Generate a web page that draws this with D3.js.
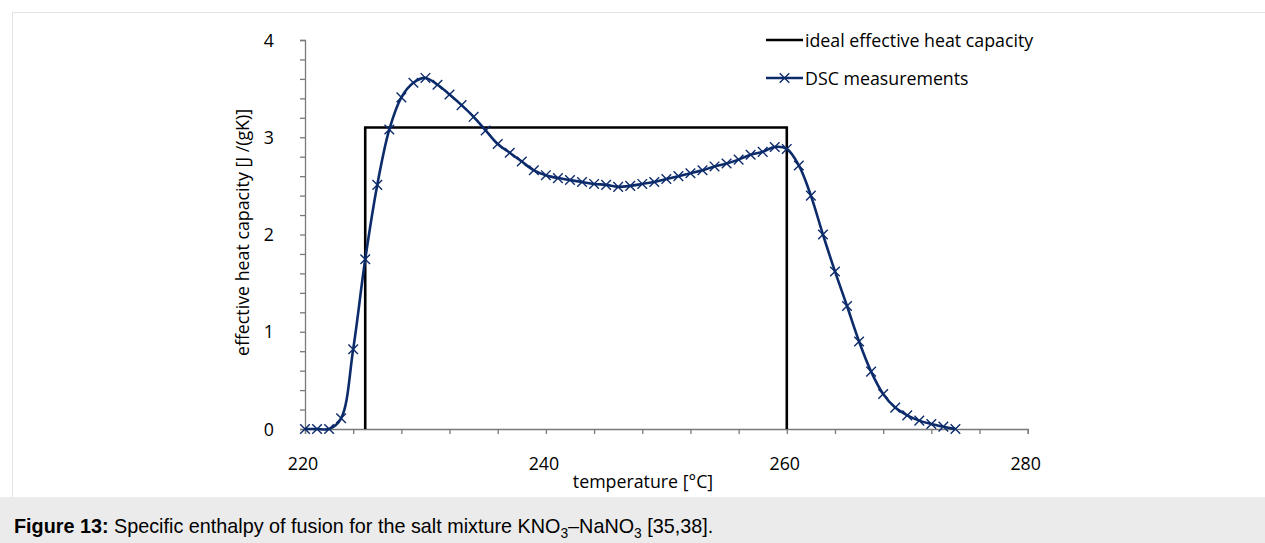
<!DOCTYPE html>
<html>
<head>
<meta charset="utf-8">
<script src="https://cdn.jsdelivr.net/npm/d3@7"></script>
<style>
  html, body { margin: 0; padding: 0; background: #fff; }
  svg { display: block; }
</style>
</head>
<body>
<svg id="chart" width="1265" height="543"></svg>
<script>
// ---- data ----
const dscTemps = [220,221,222,223,224,225,226,227,228,229,230,231,232,233,234,235,236,237,238,239,
                  240,241,242,243,244,245,246,247,248,249,250,251,252,253,254,255,256,257,258,259,
                  260,261,262,263,264,265,266,267,268,269,270,271,272,273,274];
const dscValues = [0,0,0,0.11,0.82,1.745,2.51,3.08,3.41,3.56,3.61,3.54,3.44,3.33,3.21,3.07,2.93,2.84,2.75,2.66,
                   2.61,2.58,2.56,2.54,2.52,2.51,2.49,2.50,2.52,2.54,2.57,2.60,2.63,2.66,2.70,2.73,2.77,2.82,2.85,2.90,
                   2.88,2.71,2.40,2.00,1.62,1.265,0.90,0.59,0.36,0.22,0.14,0.086,0.051,0.024,0];
const idealTemps = [225,225,260,260];
const idealValues = [0,3.1,3.1,0];
const xTickValues = [220,224,228,232,236,240,244,248,252,256,260,264,268,272,276,280];
const xTickLabels = [220,240,260,280];
const yTickValues = [0,0.2,0.4,0.6,0.8,1,1.2,1.4,1.6,1.8,2,2.2,2.4,2.6,2.8,3,3.2,3.4,3.6,3.8,4];
const yTickLabels = [0,1,2,3,4];
const seriesNames = ["ideal effective heat capacity", "DSC measurements"];
const xTitle = "temperature [°C]";
const yTitle = "effective heat capacity [J /(gK)]";

// ---- layout ----
const svg = d3.select("#chart");
const font = "'Open Sans', sans-serif";
const fs = 17.8;
const axisColor = "#7a7a7a";
const navy = "#0c2b6b";

// page frame & caption band
svg.append("rect").attr("x", 0).attr("y", 0).attr("width", 1265).attr("height", 543).attr("fill", "#fff");
svg.append("line").attr("x1", 12).attr("x2", 1265).attr("y1", 12.5).attr("y2", 12.5).attr("stroke", "#e3e3e3");
svg.append("line").attr("x1", 12.5).attr("x2", 12.5).attr("y1", 12).attr("y2", 497).attr("stroke", "#e3e3e3");
svg.append("rect").attr("x", 0).attr("y", 497).attr("width", 1265).attr("height", 46).attr("fill", "#ebebeb");

const x = d3.scaleLinear().domain([220, 280]).range([305, 1027.7]);
const y = d3.scaleLinear().domain([0, 4]).range([429, 40]);

// axes
const xAxis = d3.axisBottom(x).tickValues(xTickValues).tickSize(5).tickFormat("");
const gx = svg.append("g").attr("transform", `translate(0,${y(0)})`).call(xAxis);
gx.select(".domain").attr("stroke", axisColor).attr("stroke-width", 1.3);
gx.selectAll(".tick line").attr("stroke", axisColor).attr("stroke-width", 1.3);

const yAxis = d3.axisLeft(y).tickValues(yTickValues).tickSize(5).tickFormat("");
const gy = svg.append("g").attr("transform", `translate(${x(220)},0)`).call(yAxis);
gy.select(".domain").attr("stroke", axisColor).attr("stroke-width", 1.3);
gy.selectAll(".tick line").attr("stroke", axisColor).attr("stroke-width", 1.3);

// tick labels
svg.selectAll(".xlab").data(xTickLabels).enter().append("text")
  .attr("x", d => x(d) - 2).attr("y", 470).attr("text-anchor", "middle")
  .attr("font-family", font).attr("font-size", fs).attr("fill", "#000").text(d => d);
svg.selectAll(".ylab").data(yTickLabels).enter().append("text")
  .attr("x", 274).attr("y", d => y(d) + 6.5).attr("text-anchor", "end")
  .attr("font-family", font).attr("font-size", fs).attr("fill", "#000").text(d => d);

// axis titles
svg.append("text").attr("x", 643).attr("y", 488).attr("text-anchor", "middle")
  .attr("font-family", font).attr("font-size", fs).text(xTitle);
svg.append("text").attr("transform", `translate(249,${y(2.02)}) rotate(-90)`).attr("text-anchor", "middle")
  .attr("font-family", font).attr("font-size", fs).text(yTitle);

// ideal series
const idealData = idealTemps.map((t, i) => [t, idealValues[i]]);
svg.append("path").datum(idealData)
  .attr("d", d3.line().x(d => x(d[0])).y(d => y(d[1])))
  .attr("fill", "none").attr("stroke", "#000").attr("stroke-width", 2.6);

// DSC series
const dscData = dscTemps.map((t, i) => [t, dscValues[i]]);
svg.append("path").datum(dscData)
  .attr("d", d3.line().x(d => x(d[0])).y(d => y(d[1])).curve(d3.curveCatmullRom.alpha(0.5)))
  .attr("fill", "none").attr("stroke", navy).attr("stroke-width", 2.6);

const m = 4.8;
const cross = (g, cx, cy) => {
  g.append("path")
    .attr("d", `M${cx - m},${cy - m}L${cx + m},${cy + m}M${cx - m},${cy + m}L${cx + m},${cy - m}`)
    .attr("stroke", navy).attr("stroke-width", 1.4).attr("fill", "none");
};
const gm = svg.append("g");
dscData.forEach(d => cross(gm, x(d[0]), y(d[1])));

// legend
const lg = svg.append("g");
lg.append("line").attr("x1", 766).attr("x2", 803).attr("y1", 40).attr("y2", 40)
  .attr("stroke", "#000").attr("stroke-width", 2.6);
lg.append("text").attr("x", 805).attr("y", 46.5).attr("font-family", font).attr("font-size", fs).text(seriesNames[0]);
lg.append("line").attr("x1", 766).attr("x2", 803).attr("y1", 78).attr("y2", 78)
  .attr("stroke", navy).attr("stroke-width", 2.6);
cross(lg, 784.5, 78);
lg.append("text").attr("x", 805).attr("y", 84.5).attr("font-family", font).attr("font-size", fs).text(seriesNames[1]);

// caption
const cap = svg.append("text").attr("x", 14).attr("y", 532.5)
  .attr("font-family", "'Liberation Sans', Arial, sans-serif").attr("font-size", 19.8).attr("fill", "#000");
cap.append("tspan").attr("font-weight", "bold").text("Figure 13:");
cap.append("tspan").text(" Specific enthalpy of fusion for the salt mixture KNO");
cap.append("tspan").attr("font-size", 13.8).attr("dy", 5).text("3");
cap.append("tspan").attr("dy", -5).text("–NaNO");
cap.append("tspan").attr("font-size", 13.8).attr("dy", 5).text("3");
cap.append("tspan").attr("dy", -5).text(" [35,38].");
</script>
</body>
</html>
